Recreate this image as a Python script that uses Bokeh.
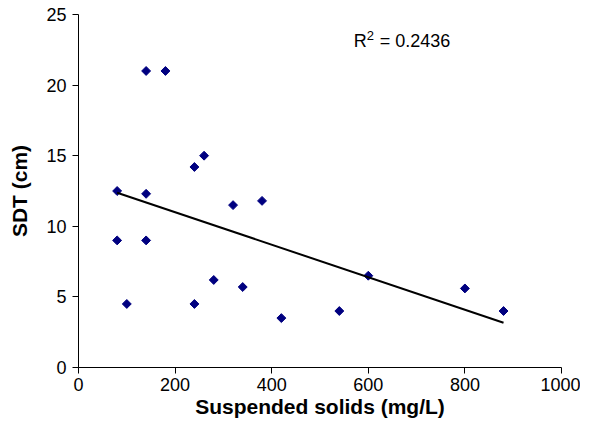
import numpy as np
from bokeh.plotting import figure
from bokeh.models import Range1d, FixedTicker, Label, ColumnDataSource
from bokeh.embed import file_html
from bokeh.resources import INLINE

# Data
suspended_solids = [80, 140, 180, 140, 240, 260, 80, 140, 100, 240, 280, 320, 340, 380, 420, 540, 600, 800, 880]
sdt_cm = [12.5, 21.0, 21.0, 12.3, 14.2, 15.0, 9.0, 9.0, 4.5, 4.5, 6.2, 11.5, 5.7, 11.8, 3.5, 4.0, 6.5, 5.6, 4.0]
x_ticks = [0, 200, 400, 600, 800, 1000]
y_ticks = [0, 5, 10, 15, 20, 25]
r2_base = "R"
r2_sup = "2"
r2_rest = "= 0.2436"

FONT = "Liberation Sans"

p = figure(width=580, height=421, output_backend="svg", toolbar_location=None,
           x_range=Range1d(0, 1000), y_range=Range1d(0, 25),
           min_border_left=78, min_border_right=19, min_border_top=14, min_border_bottom=54)
p.outline_line_color = None
p.xgrid.grid_line_color = None
p.ygrid.grid_line_color = None

for ax in (p.xaxis, p.yaxis):
    ax.axis_line_color = "black"
    ax.major_tick_line_color = "black"
    ax.major_tick_out = 6
    ax.major_tick_in = 0
    ax.minor_tick_line_color = None
    ax.major_label_text_font = FONT
    ax.major_label_text_font_size = "18px"
    ax.major_label_text_color = "black"
    ax.axis_label_text_font = FONT
    ax.axis_label_text_font_style = "bold"
    ax.axis_label_text_font_size = "21px"
    ax.axis_label_text_color = "black"

p.xaxis.ticker = FixedTicker(ticks=x_ticks)
p.yaxis.ticker = FixedTicker(ticks=y_ticks)
p.xaxis.axis_label = "Suspended solids (mg/L)"
p.yaxis.axis_label = "SDT (cm)"
p.xaxis.major_label_standoff = 4
p.yaxis.major_label_standoff = 6
p.xaxis.axis_label_standoff = 1
p.yaxis.axis_label_standoff = 12

src = ColumnDataSource(data=dict(x=suspended_solids, y=sdt_cm))
p.scatter("x", "y", source=src, marker="square", angle=np.pi / 4, size=6.3,
          fill_color="#000080", line_color="#000080", line_width=1)

# Linear trend line computed from the data
xs = np.array(suspended_solids, dtype=float)
ys = np.array(sdt_cm, dtype=float)
slope, intercept = np.polyfit(xs, ys, 1)
lx = np.array([xs.min(), xs.max()])
p.line(lx, slope * lx + intercept, line_color="black", line_width=2)

lab_x, lab_y = 570, 23.1
p.add_layout(Label(x=lab_x, y=lab_y, text=r2_base, text_font=FONT,
                   text_font_size="18px", text_color="black", text_baseline="alphabetic"))
p.add_layout(Label(x=lab_x, y=lab_y, x_offset=13, y_offset=6, text=r2_sup, text_font=FONT,
                   text_font_size="13px", text_color="black", text_baseline="alphabetic"))
p.add_layout(Label(x=lab_x, y=lab_y, x_offset=26, text=r2_rest, text_font=FONT,
                   text_font_size="18px", text_color="black", text_baseline="alphabetic"))

open("out.html", "w").write(file_html(p, INLINE))
